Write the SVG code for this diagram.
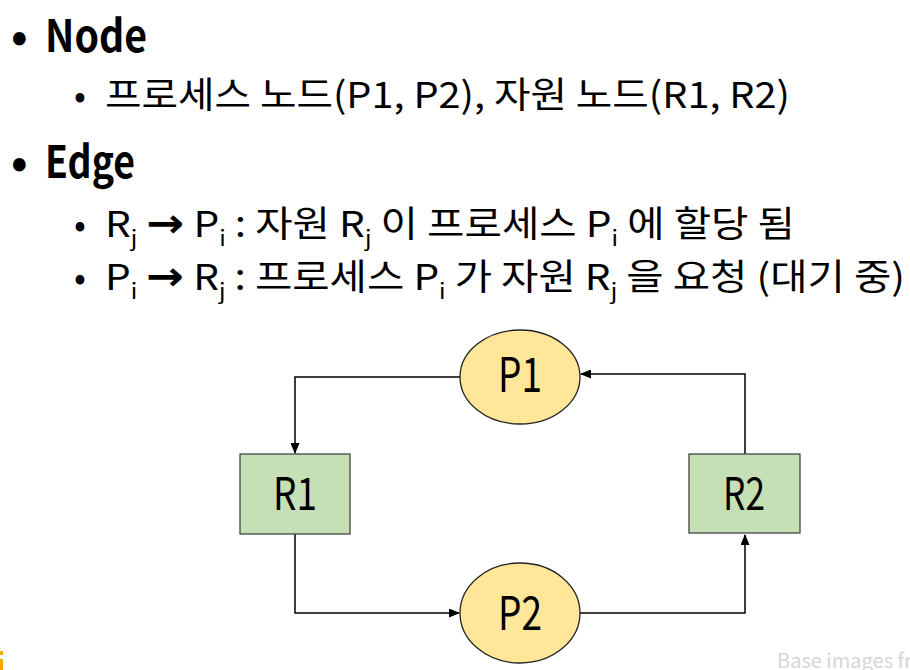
<svg xmlns="http://www.w3.org/2000/svg" width="910" height="670" viewBox="0 0 910 670">
<style>
.t{font-family:"Noto Sans CJK KR","Noto Sans",sans-serif;fill:#000}
.h{font-size:44px;font-weight:bold}
.b{font-size:35px}
.k{font-size:36px}
.s{font-size:21px}
.ar{font-family:"DejaVu Sans",sans-serif;font-weight:bold;font-size:40px}
.proc ellipse{fill:#FFE699;stroke:#222;stroke-width:1.3}
.res rect{fill:#C5E0B4;stroke:#444;stroke-width:1.3}
.lbl{font-family:"Noto Sans CJK KR","Noto Sans",sans-serif;text-anchor:middle;fill:#000}
.conn path{fill:none;stroke:#000;stroke-width:1.5}
.foot{font-family:"Noto Sans CJK KR","Noto Sans",sans-serif;font-size:20px;fill:#d6d6d6}
</style>
<defs>
<marker id="ah" markerUnits="userSpaceOnUse" markerWidth="11" markerHeight="9" refX="10" refY="4.5" orient="auto">
<path d="M0,0 L11,4.5 L0,9 z" fill="#000"/>
</marker>
</defs>
<rect width="910" height="670" fill="#fff"/>

<g id="text">
<text class="t h" x="11" y="52">•</text>
<text class="t h" x="45" y="52" textLength="102" lengthAdjust="spacingAndGlyphs">Node</text>
<text class="t b" x="74" y="108">•</text>
<text class="t k" x="105" y="108" textLength="685" lengthAdjust="spacingAndGlyphs">프로세스 노드(P1, P2), 자원 노드(R1, R2)</text>
<text class="t h" x="11" y="178">•</text>
<text class="t h" x="45" y="178" textLength="90" lengthAdjust="spacingAndGlyphs">Edge</text>

<text class="t b" x="74" y="237">•</text>
<text class="t k" x="105" y="237" textLength="690" lengthAdjust="spacingAndGlyphs">R<tspan class="s" dy="9">j</tspan><tspan dy="-9"> </tspan><tspan class="ar">→</tspan> P<tspan class="s" dy="9">i</tspan><tspan dy="-9"> : 자원 R</tspan><tspan class="s" dy="9">j</tspan><tspan dy="-9"> 이 프로세스 P</tspan><tspan class="s" dy="9">i</tspan><tspan dy="-9"> 에 할당 됨</tspan></text>

<text class="t b" x="74" y="290">•</text>
<text class="t k" x="105" y="290" textLength="800" lengthAdjust="spacingAndGlyphs">P<tspan class="s" dy="9">i</tspan><tspan dy="-9"> </tspan><tspan class="ar">→</tspan> R<tspan class="s" dy="9">j</tspan><tspan dy="-9"> : 프로세스 P</tspan><tspan class="s" dy="9">i</tspan><tspan dy="-9"> 가 자원 R</tspan><tspan class="s" dy="9">j</tspan><tspan dy="-9"> 을 요청 (대기 중)</tspan></text>
</g>

<g id="connectors" class="conn">
<path d="M460,377 H295 V453" marker-end="url(#ah)"/>
<path d="M295,534 V613 H459" marker-end="url(#ah)"/>
<path d="M580,613 H745 V535" marker-end="url(#ah)"/>
<path d="M745,454 V374 H581" marker-end="url(#ah)"/>
</g>

<g id="P1" class="proc">
<ellipse cx="520" cy="377" rx="60" ry="47"/>
<text class="lbl" x="520" y="392" font-size="48" textLength="44" lengthAdjust="spacingAndGlyphs">P1</text>
</g>
<g id="R1" class="res">
<rect x="240" y="454" width="110" height="80"/>
<text class="lbl" x="295" y="510" font-size="45" textLength="44" lengthAdjust="spacingAndGlyphs">R1</text>
</g>
<g id="R2" class="res">
<rect x="689" y="454" width="111" height="79"/>
<text class="lbl" x="744" y="510" font-size="45" textLength="42" lengthAdjust="spacingAndGlyphs">R2</text>
</g>
<g id="P2" class="proc">
<ellipse cx="520" cy="613" rx="60" ry="50"/>
<text class="lbl" x="520" y="630" font-size="46" textLength="44" lengthAdjust="spacingAndGlyphs">P2</text>
</g>

<g id="marks">
<rect x="0" y="651" width="3" height="4" fill="#F5A800"/>
<rect x="0" y="659" width="3" height="11" fill="#F5A800"/>
<text class="foot" x="777" y="668">Base images fr</text>
</g>
</svg>
